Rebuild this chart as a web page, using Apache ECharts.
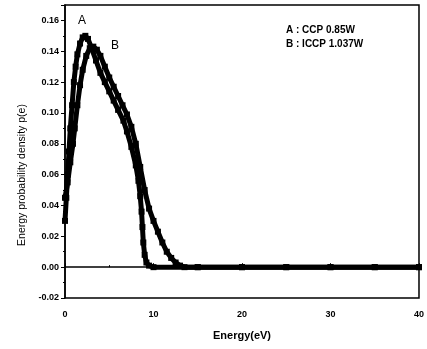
<!DOCTYPE html>
<html><head><meta charset="utf-8">
<script src="https://cdn.jsdelivr.net/npm/echarts@6/dist/echarts.min.js"></script>
<style>html,body{margin:0;padding:0;background:#fff}#c{width:427px;height:349px}</style>
</head><body><div id="c"></div>
<script>
// Curve A : CCP 0.85W  [energy eV, p(e)]
const curveA = [[0,0.03],[0.15,0.045],[0.3,0.06],[0.45,0.075],[0.6,0.09],[0.8,0.105],[1.0,0.12],[1.2,0.13],[1.4,0.138],[1.7,0.145],[2.0,0.149],[2.3,0.15],[2.6,0.148],[3.0,0.142],[3.5,0.134],[4.0,0.126],[4.5,0.12],[5.0,0.114],[5.5,0.108],[6.0,0.102],[6.6,0.095],[7.0,0.088],[7.5,0.078],[8.0,0.066],[8.3,0.056],[8.5,0.046],[8.65,0.036],[8.75,0.026],[8.85,0.016],[9.0,0.008],[9.2,0.003],[9.5,0.001],[10,0],[15,0],[20,0],[25,0],[30,0],[35,0],[40,0]];
// Curve B : ICCP 1.037W
const curveB = [[0,0.045],[0.3,0.055],[0.6,0.068],[0.9,0.08],[1.1,0.09],[1.4,0.105],[1.7,0.118],[2.0,0.128],[2.4,0.137],[2.8,0.142],[3.2,0.143],[3.6,0.141],[4.0,0.137],[4.5,0.13],[5.0,0.123],[5.5,0.117],[6.0,0.111],[6.5,0.105],[7.0,0.099],[7.5,0.091],[8.0,0.08],[8.5,0.065],[9.0,0.05],[9.5,0.038],[10.0,0.03],[10.5,0.023],[11.0,0.016],[11.5,0.01],[12.0,0.006],[12.5,0.003],[13,0.001],[13.5,0],[15,0],[20,0],[25,0],[30,0],[35,0],[40,0]];
const legendLines = ['A : CCP 0.85W','B : ICCP 1.037W'];
const curveLabels = ['A','B'];
const xName = 'Energy(eV)';
const yName = 'Energy probability density p(e)';

const chart = echarts.init(document.getElementById('c'));
const font = 'Liberation Sans, Arial, sans-serif';
const mkSeries = (name, data) => ({
  name, type: 'line', data, symbol: 'rect', symbolSize: 6, showSymbol: true,
  itemStyle: {color: '#000'}, lineStyle: {color: '#000', width: 5}, animation: false, z: 3
});
chart.setOption({
  animation: false,
  grid: {left: 65, right: 5, top: 5, bottom: 51, show: true, borderColor: '#000', borderWidth: 1.5},
  xAxis: {
    type: 'value', min: 0, max: 40, interval: 10,
    name: xName, nameLocation: 'middle', nameGap: 32,
    nameTextStyle: {fontFamily: font, fontSize: 11, fontWeight: 'bold', color: '#000'},
    axisLine: {show: true, lineStyle: {color: '#000', width: 1.5}},
    axisTick: {show: true, inside: true, length: 4, lineStyle: {color: '#000'}},
    minorTick: {show: true, splitNumber: 2, length: 2, lineStyle: {color: '#000'}},
    splitLine: {show: false},
    axisLabel: {fontFamily: font, fontSize: 9, fontWeight: 'bold', color: '#000', margin: 12}
  },
  yAxis: {
    type: 'value', min: -0.02, max: 0.17, interval: 0.02,
    axisLine: {show: true, lineStyle: {color: '#000', width: 1.5}},
    axisTick: {show: true, inside: false, length: 4, lineStyle: {color: '#000'}},
    minorTick: {show: true, splitNumber: 2, length: 2, lineStyle: {color: '#000'}},
    splitLine: {show: false},
    axisLabel: {fontFamily: font, fontSize: 9, fontWeight: 'bold', color: '#000', margin: 6, showMaxLabel: false,
      formatter: v => (Math.abs(Math.round(v / 0.02) * 0.02 - v) < 1e-6 ? v.toFixed(2) : '')}
  },
  series: [mkSeries('A', curveA), mkSeries('B', curveB)],
  graphic: [
    {type: 'text', x: 22, y: 175, rotation: Math.PI / 2,
      style: {text: yName, font: '10.5px ' + font, fill: '#000', align: 'center', verticalAlign: 'middle'}},
    {type: 'text', left: 78, top: 15, style: {text: curveLabels[0], font: '12px ' + font, fill: '#000'}},
    {type: 'text', left: 111, top: 40, style: {text: curveLabels[1], font: '12px ' + font, fill: '#000'}},
    {type: 'text', left: 286, top: 25, style: {text: legendLines[0], font: 'bold 10px ' + font, fill: '#000'}},
    {type: 'text', left: 286, top: 39, style: {text: legendLines[1], font: 'bold 10px ' + font, fill: '#000'}}
  ]
});
</script></body></html>
